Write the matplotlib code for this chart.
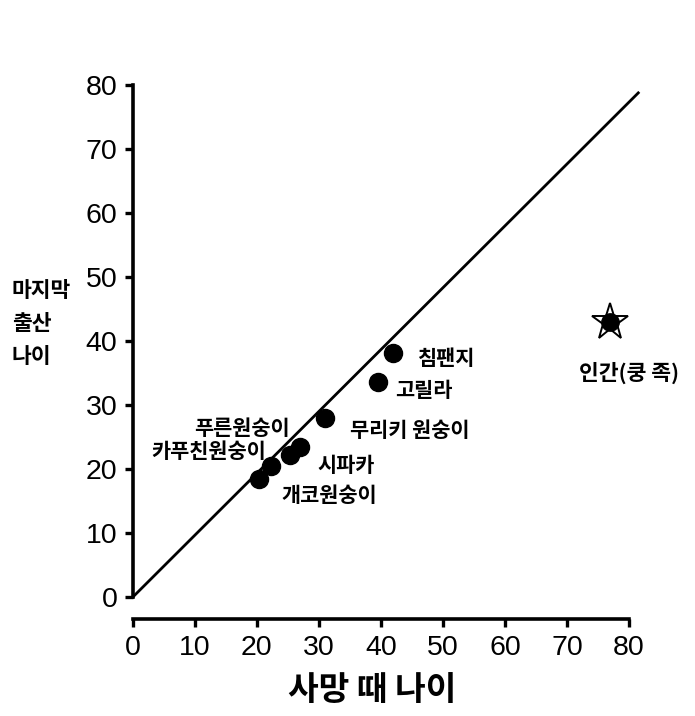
import matplotlib
matplotlib.use("Agg")
import matplotlib.pyplot as plt

plt.rcParams['font.family'] = ['Noto Sans CJK KR', 'DejaVu Sans']

species = ['침팬지', '고릴라', '무리키 원숭이', '시파카', '시파카', '푸른원숭이', '카푸친원숭이']
death_age = [42.0, 39.5, 31.0, 27.0, 25.3, 22.3, 20.3]
last_birth_age = [38.1, 33.6, 28.0, 23.4, 22.2, 20.5, 18.4]

human_label = '인간(쿵 족)'
human_death = [77.0]
human_birth = [43.0]

line_x = [0, 81.5]
line_y = [0, 78.8]

ticks = [0, 10, 20, 30, 40, 50, 60, 70, 80]

fig = plt.figure(figsize=(6.95, 7.16), dpi=100)
ax = fig.add_axes([0.191, 0.166, 0.714, 0.715])

for s in ['top', 'right']:
    ax.spines[s].set_visible(False)
ax.spines['left'].set_linewidth(2.6)
ax.spines['bottom'].set_linewidth(2.6)
ax.spines['bottom'].set_position(('outward', 16))

ax.plot(line_x, line_y, color='black', lw=2.0, clip_on=False)
ax.plot(death_age, last_birth_age, 'o', color='black', markersize=13, clip_on=False)
ax.plot(human_death, human_birth, 'o', color='black', markersize=12.5, clip_on=False)
ax.plot(human_death, human_birth, '*', markerfacecolor='none', markeredgecolor='black',
        markersize=28, markeredgewidth=1.4, clip_on=False)

ax.set_xlim(0, 80)
ax.set_ylim(0, 80)
ax.set_xticks(ticks)
ax.set_yticks(ticks)
ax.set_xticklabels([str(t) for t in ticks], family='Liberation Sans', fontsize=20.5)
ax.set_yticklabels([str(t) for t in ticks], family='Liberation Sans', fontsize=20.5)
ax.tick_params(width=2.4, length=6, pad=5, colors='black')

lab = dict(fontsize=15, fontweight='bold', color='black')
label_pos = {
    '침팬지': (45.8, 37.3, 'left'),
    '고릴라': (42.3, 32.3, 'left'),
    '무리키 원숭이': (35.0, 26.1, 'left'),
    '시파카': (29.8, 20.6, 'left'),
    '개코원숭이': (24.0, 15.9, 'left'),
    '푸른원숭이': (25.3, 26.4, 'right'),
    '카푸친원숭이': (21.5, 22.7, 'right'),
}
for name, (x, y, ha) in label_pos.items():
    ax.text(x, y, name, ha=ha, va='center', **lab)
ax.text(80.0, 35.0, human_label, ha='center', va='center', fontsize=15.5,
        fontweight='bold', color='black', clip_on=False)

fig.text(0.017, 0.548, '마지막\n출산\n나이', ha='left', va='center', fontsize=15.5,
         fontweight='bold', linespacing=1.7)
fig.text(0.535, 0.036, '사망 때 나이', ha='center', va='center', fontsize=24, fontweight='bold')

fig.savefig('out.png', dpi=100, facecolor='white')
